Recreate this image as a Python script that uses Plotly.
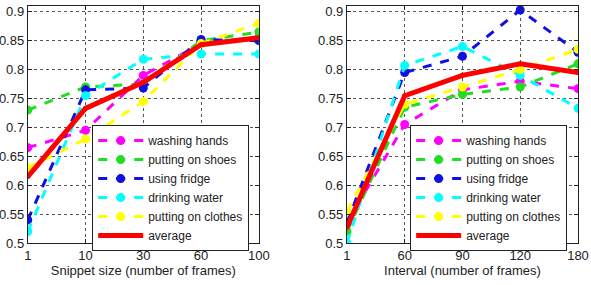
import plotly.graph_objects as go

names = ["washing hands", "putting on shoes", "using fridge", "drinking water", "putting on clothes", "average"]
colors = ["#ff00ff", "#22dd22", "#1010e0", "#00ffff", "#ffff00", "#ff0000"]

snippet_ticks = ["1", "10", "30", "60", "100"]
snippet_vals = [
    [0.665, 0.695, 0.790, 0.845, 0.855],
    [0.730, 0.770, 0.775, 0.850, 0.865],
    [0.540, 0.765, 0.768, 0.852, 0.850],
    [0.520, 0.755, 0.818, 0.827, 0.827],
    [0.630, 0.680, 0.745, 0.845, 0.880],
    [0.615, 0.733, 0.778, 0.843, 0.855],
]

interval_ticks = ["1", "60", "90", "120", "180"]
interval_vals = [
    [0.535, 0.705, 0.765, 0.780, 0.767],
    [0.520, 0.735, 0.757, 0.770, 0.810],
    [0.535, 0.795, 0.823, 0.903, 0.830],
    [0.500, 0.807, 0.840, 0.790, 0.733],
    [0.555, 0.740, 0.770, 0.800, 0.835],
    [0.527, 0.755, 0.790, 0.810, 0.795],
]

fig = go.Figure()

def add_panel(ticks, vals, xa, ya, leg):
    for n, c, v in zip(names, colors, vals):
        avg = (n == "average")
        fig.add_trace(go.Scatter(
            x=ticks, y=v, name=n, mode="lines+markers",
            line=dict(color=c, width=5 if avg else 3, dash="solid" if avg else "dash"),
            marker=dict(color=c, size=5 if avg else 9, symbol="circle"),
            xaxis=xa, yaxis=ya, legend=leg,
        ))

add_panel(snippet_ticks, snippet_vals, "x", "y", "legend")
add_panel(interval_ticks, interval_vals, "x2", "y2", "legend2")

font = dict(family="Liberation Sans, Arial, sans-serif", size=13, color="#222222")
lfont = dict(family="Liberation Sans, Arial, sans-serif", size=12, color="#222222")

axis_common = dict(
    showline=True, linecolor="#222222", linewidth=1, mirror="ticks",
    ticks="inside", ticklen=4, tickcolor="#222222",
    showgrid=True, gridcolor="#555555", griddash="dot", gridwidth=1,
    zeroline=False, tickfont=font, automargin=False,
)

yt = [0.5, 0.55, 0.6, 0.65, 0.7, 0.75, 0.8, 0.85, 0.9]
ytt = ["0.5", "0.55", "0.6", "0.65", "0.7", "0.75", "0.8", "0.85", "0.9"]

fig.update_layout(
    width=591, height=285,
    margin=dict(l=0, r=0, t=0, b=0),
    paper_bgcolor="white", plot_bgcolor="white",
    font=font,
    xaxis=dict(domain=[0.047, 0.438], anchor="y", type="category", range=[0, 4],
               title=dict(text="Snippet size (number of frames)", font=font, standoff=2), **axis_common),
    yaxis=dict(domain=[0.147, 0.979], anchor="x", range=[0.5, 0.91],
               tickvals=yt, ticktext=ytt, **axis_common),
    xaxis2=dict(domain=[0.587, 0.978], anchor="y2", type="category", range=[0, 4],
                title=dict(text="Interval (number of frames)", font=font, standoff=2), **axis_common),
    yaxis2=dict(domain=[0.147, 0.979], anchor="x2", range=[0.5, 0.91],
                tickvals=yt, ticktext=ytt, **axis_common),
    legend=dict(x=0.156, y=0.561, xanchor="left", yanchor="top", bgcolor="white",
                bordercolor="#222222", borderwidth=1, font=lfont, tracegroupgap=0, itemwidth=45),
    legend2=dict(x=0.694, y=0.561, xanchor="left", yanchor="top", bgcolor="white",
                 bordercolor="#222222", borderwidth=1, font=lfont, tracegroupgap=0, itemwidth=45),
)

fig.write_html("out.html")
